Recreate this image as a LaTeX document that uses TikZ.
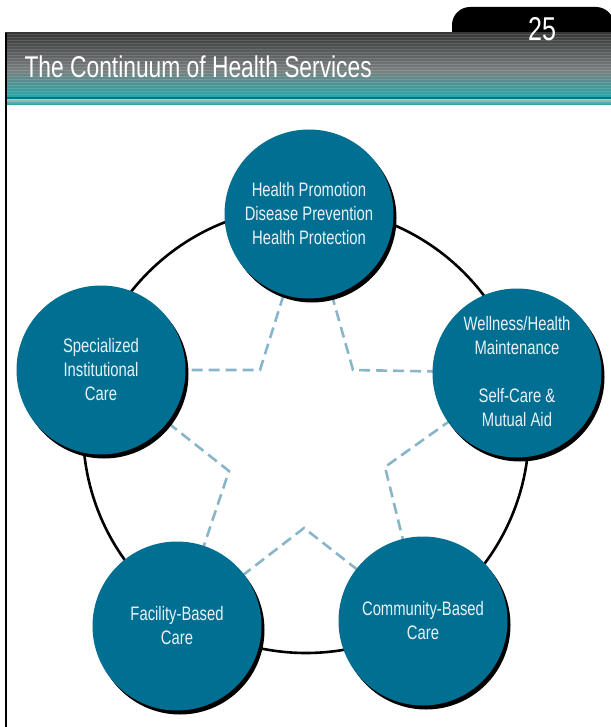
\documentclass[tikz,border=0pt]{standalone}
\usepackage{fontspec}
\setmainfont{Liberation Sans}[FakeStretch=0.76]
\usetikzlibrary{shadows,backgrounds}
\definecolor{hcteal}{RGB}{0,111,146}
\definecolor{hctext}{RGB}{232,243,247}
\definecolor{hcstar}{RGB}{136,181,201}
\definecolor{hcband}{RGB}{0,112,143}
\tikzset{
  svc/.style={circle,fill=hcteal,minimum size=169pt,inner sep=0pt,text=hctext,
    align=center,font=\fontsize{19.5}{24}\selectfont,
    drop shadow={shadow xshift=3pt,shadow yshift=-4pt,opacity=1,fill=black}},
  starline/.style={hcstar,line width=2.6pt,dash pattern=on 11pt off 6pt}
}
\begin{document}
\begin{tikzpicture}[x=1pt,y=-1pt]
\useasboundingbox (0,0) rectangle (610,727);

% header
\fill[black,rounded corners=18pt] (452,40) -- (452,7) -- (614,7) -- (614,40);
\shade[top color=black!78,bottom color=gray!95!teal] (5,33) rectangle (612,70);
\shade[top color=gray!95!teal,bottom color=teal!55!cyan!70!gray] (5,70) rectangle (612,97);
\fill[hcband] (5,97) rectangle (612,100);
\shade[top color=teal!40!white!80!gray,bottom color=teal!70!cyan!80!gray] (5,100) rectangle (612,105);
\foreach \yy in {35,38,...,95}
  \draw[white,opacity=.13,line width=1pt] (5,\yy) -- (612,\yy);
\draw[line width=1.2pt] (6,33) -- (6,727);

\node[anchor=base west,text=white,font=\fontsize{30}{30}\selectfont] (title) at (21,78) {The Continuum of Health Services};
\node[anchor=base,text=white,font=\fontsize{33}{33}\selectfont] (page) at (542,41) {25};

% services
\node[svc] (hp) at (309,214) {Health Promotion\\Disease Prevention\\Health Protection};
\node[svc] (sic) at (101,370) {Specialized\\Institutional\\Care};
\node[svc] (whm) at (517,373) {\\[-12pt]Wellness/Health\\Maintenance\\[24pt]Self-Care \&\\Mutual Aid};
\node[svc] (fbc) at (177,626) {Facility-Based\\Care};
\node[svc] (cbc) at (423,621) {Community-Based\\Care};

\coordinate (s1) at (260,370);
\coordinate (s2) at (229,471);
\coordinate (s3) at (304,528);
\coordinate (s4) at (385,467);
\coordinate (s5) at (353,370);

\begin{scope}[on background layer]
\draw[line width=2.6pt] (306,430) circle[radius=223pt];
\draw[starline] (hp.center) -- (s1) -- (sic.center) -- (s2) -- (fbc.center)
  -- (s3) -- (cbc.center) -- (s4) -- (whm.center) -- (s5) -- cycle;
\end{scope}
\end{tikzpicture}
\end{document}
